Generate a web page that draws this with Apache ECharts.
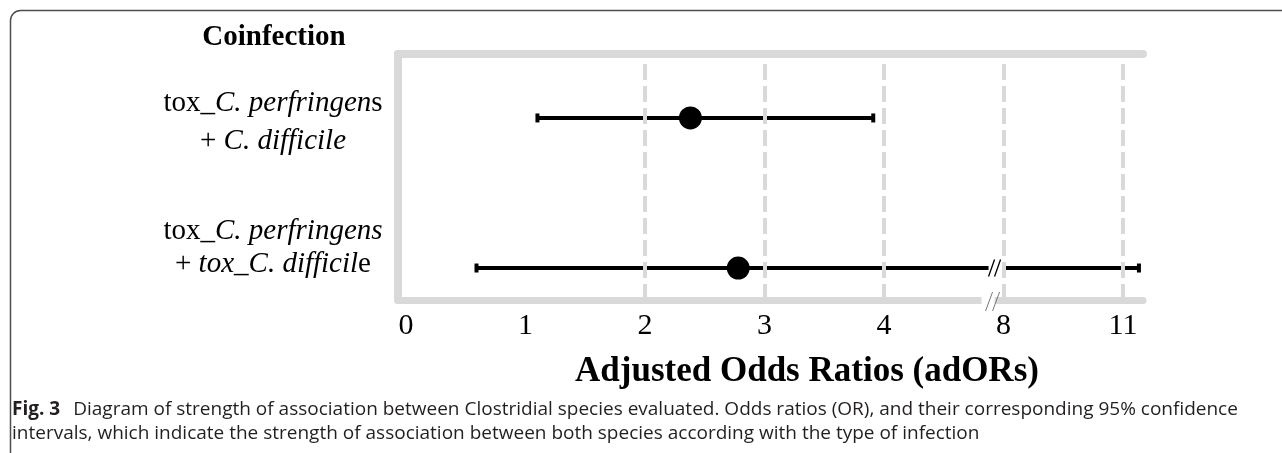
<!DOCTYPE html>
<html><head><meta charset="utf-8">
<script src="https://cdn.jsdelivr.net/npm/echarts@6/dist/echarts.min.js"></script>
<style>html,body{margin:0;padding:0;background:#fff}#c{width:1282px;height:453px}</style>
</head><body><div id="c"></div>
<script>
// ---- data ----
const tickValues = [0, 1, 2, 3, 4, 8, 11];
const tickLabels = ['0', '1', '2', '3', '4', '8', '11'];
const oddsRatio = [2.38, 2.78];
const ciLower = [1.10, 0.59];
const ciUpper = [3.91, 11.4];
const refValue = 1;
const breakValue = 7.6;

// ---- layout (row heights on the y scale) ----
const rowY = [5.92, 1.04];

// piecewise scale: each labelled tick gets one equal slot
function toPos(v) {
  const t = tickValues;
  for (let i = 0; i < t.length - 1; i++) {
    if (v <= t[i + 1] || i === t.length - 2) {
      return i + (v - t[i]) / (t[i + 1] - t[i]);
    }
  }
}

const serif = "'Liberation Serif', 'Times New Roman', serif";
const sans = "'Open Sans', sans-serif";
const grey = '#d9d9d9';

const ciData = oddsRatio.map((_, i) => [rowY[i], toPos(ciLower[i]), toPos(ciUpper[i]), toPos(breakValue)]);
const pointData = oddsRatio.map((v, i) => [toPos(v), rowY[i]]);

const gridLines = tickValues.filter(v => v > refValue).map(v => ({ xAxis: toPos(v) }));

function renderCI(params, api) {
  const y = api.value(0), lo = api.value(1), hi = api.value(2), br = api.value(3);
  const a = api.coord([lo, y]), b = api.coord([hi, y]);
  const st = { stroke: '#000', lineWidth: 4 };
  const ch = [];
  if (br > lo && br < hi) {
    const p = api.coord([br, y]);
    ch.push({ type: 'line', shape: { x1: a[0], y1: a[1], x2: p[0] - 3, y2: a[1] }, style: st });
    ch.push({ type: 'line', shape: { x1: p[0] + 11, y1: a[1], x2: b[0], y2: b[1] }, style: st });
    [0, 6].forEach(d => ch.push({ type: 'line', shape: { x1: p[0] + d - 3, y1: a[1] + 8.5, x2: p[0] + d + 3, y2: a[1] - 8.5 }, style: { stroke: '#000', lineWidth: 1.3 } }));
  } else {
    ch.push({ type: 'line', shape: { x1: a[0], y1: a[1], x2: b[0], y2: b[1] }, style: st });
  }
  [a, b].forEach(p => ch.push({ type: 'rect', shape: { x: p[0] - 2, y: p[1] - 4.5, width: 4, height: 9 }, style: { fill: '#000' } }));
  return { type: 'group', children: ch };
}

function renderAxisBreak(params, api) {
  const p = api.coord([api.value(0), api.value(1)]);
  const ch = [{ type: 'rect', shape: { x: p[0] - 10, y: p[1] - 5, width: 13, height: 10 }, style: { fill: '#fff' } }];
  [-2.5, 4.5].forEach(d => ch.push({ type: 'line', shape: { x1: p[0] + d - 3.5, y1: p[1] + 11, x2: p[0] + d + 3.5, y2: p[1] - 8 }, style: { stroke: '#777', lineWidth: 1 } }));
  return { type: 'group', children: ch };
}

const chart = echarts.init(document.getElementById('c'), null, { renderer: 'canvas' });
const xmin = -8 / 119.5, xmax = (1143 - 406) / 119.5;
const richRow = {
  n: { fontFamily: serif, fontSize: 29, fill: '#000' },
  i: { fontFamily: serif, fontSize: 29, fontStyle: 'italic', fill: '#000' }
};

chart.setOption({
  animation: false,
  grid: { left: 398, right: 139, top: 54, bottom: 153 },
  xAxis: [{
    type: 'value', min: xmin, max: xmax, position: 'bottom',
    axisLine: { show: true, onZero: false, lineStyle: { color: grey, width: 7 } },
    axisTick: { show: false },
    splitLine: { show: false },
    axisLabel: {
      customValues: tickValues.map((_, i) => i),
      formatter: v => tickLabels[Math.round(v)],
      fontFamily: serif, fontSize: 30, color: '#000', margin: 11
    }
  }, {
    type: 'value', min: xmin, max: xmax, position: 'top',
    axisLine: { show: true, onZero: false, lineStyle: { color: grey, width: 8 } },
    axisTick: { show: false }, axisLabel: { show: false }, splitLine: { show: false }
  }],
  yAxis: {
    type: 'value', min: 0, max: 8,
    axisLine: { show: true, onZero: false, lineStyle: { color: grey, width: 8 } },
    axisTick: { show: false }, axisLabel: { show: false }, splitLine: { show: false }
  },
  series: [{
    type: 'scatter', data: pointData, symbolSize: 23, clip: false,
    itemStyle: { color: '#000', opacity: 1 }, z: 5,
    markLine: {
      silent: true, symbol: 'none', label: { show: false },
      data: gridLines.map(g => ({ xAxis: g.xAxis, lineStyle: { color: grey, width: 4, type: [16, 6] } }))
        .concat([[{ coord: [toPos(refValue), 8.78], lineStyle: { color: '#c00000', width: 2.8, type: [11, 5] } }, { coord: [toPos(refValue), 0] }]])
    }
  }, {
    type: 'custom', renderItem: renderCI, data: ciData, clip: false, z: 4
  }, {
    type: 'custom', renderItem: renderAxisBreak, data: [[toPos(breakValue), 0]], clip: false, z: 6
  }],
  graphic: [
    { type: 'rect', shape: { x: 10.5, y: 10.5, width: 1400, height: 600, r: 10 }, style: { fill: 'none', stroke: '#4d4d4d', lineWidth: 1.5 } },
    { type: 'text', x: 274, y: 38, style: { text: 'Coinfection', font: 'bold 29px ' + serif, fill: '#000', align: 'center', verticalAlign: 'middle' } },
    { type: 'text', x: 273, y: 103, style: { text: '{n|tox_}{i|C. perfringen}{n|s}', align: 'center', verticalAlign: 'middle', rich: richRow } },
    { type: 'text', x: 273, y: 141, style: { text: '{n|+ }{i|C. difficile}', align: 'center', verticalAlign: 'middle', rich: richRow } },
    { type: 'text', x: 273, y: 231, style: { text: '{n|tox_}{i|C. perfringens}', align: 'center', verticalAlign: 'middle', rich: richRow } },
    { type: 'text', x: 273, y: 264, style: { text: '{n|+ }{i|tox_C. difficil}{n|e}', align: 'center', verticalAlign: 'middle', rich: richRow } },
    { type: 'text', x: 807, y: 372, style: { text: 'Adjusted Odds Ratios (adORs)', font: 'bold 35px ' + serif, fill: '#000', align: 'center', verticalAlign: 'middle' } },
    { type: 'text', x: 12, y: 410, style: { text: '{b|Fig. 3}{r|Diagram of strength of association between Clostridial species evaluated. Odds ratios (OR), and their corresponding 95% confidence}', verticalAlign: 'middle',
      rich: { b: { fontFamily: sans, fontWeight: 'bold', fontSize: 19, fill: '#231f20', padding: [0, 13, 0, 0] }, r: { fontFamily: sans, fontSize: 19, fill: '#231f20' } } } },
    { type: 'text', x: 12, y: 434, style: { text: 'intervals, which indicate the strength of association between both species according with the type of infection', verticalAlign: 'middle',
      font: '19px ' + sans, fill: '#231f20' } }
  ]
});
</script></body></html>
